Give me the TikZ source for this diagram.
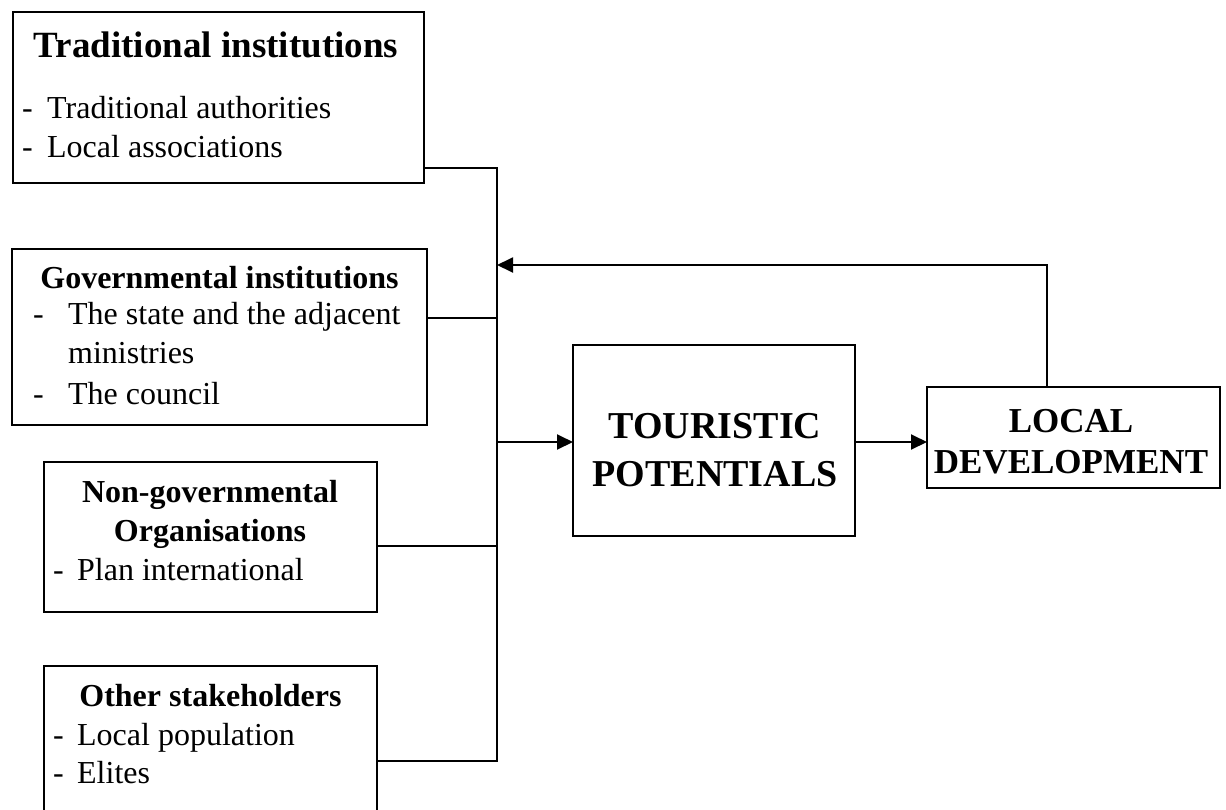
\documentclass[tikz,border=0pt]{standalone}
\usepackage{fontspec}
\setmainfont{Liberation Serif}
\usetikzlibrary{arrows.meta}
\tikzset{
  box/.style={draw, line width=1.9pt, anchor=north west, inner sep=0pt, outer sep=0pt},
  conn/.style={line width=1.9pt},
  arr/.style={conn, -{Triangle[length=16pt,width=15pt]}},
  ttl/.style={anchor=base, inner sep=0pt, font=\fontsize{32}{38}\selectfont\bfseries},
  bigttl/.style={anchor=base, inner sep=0pt, font=\fontsize{37}{44}\selectfont\bfseries},
  item/.style={anchor=base west, inner sep=0pt, font=\fontsize{32}{38}\selectfont},
  captl/.style={anchor=base, inner sep=0pt, font=\fontsize{38}{46}\selectfont\bfseries},
  capld/.style={anchor=base, inner sep=0pt, font=\fontsize{35}{42}\selectfont\bfseries},
}
\begin{document}
\begin{tikzpicture}[x=1pt,y=-1pt]
\useasboundingbox (0,0) rectangle (1226,809);
% boxes
\node[box, minimum width=411pt, minimum height=171pt] (b1) at (13,12) {};
\node[box, minimum width=415pt, minimum height=176pt] (b2) at (12,249) {};
\node[box, minimum width=333pt, minimum height=150pt] (b3) at (44,462) {};
\node[box, minimum width=333pt, minimum height=170pt] (b4) at (44,666) {};
\node[box, minimum width=282pt, minimum height=191pt] (tp) at (573,345) {};
\node[box, minimum width=293pt, minimum height=101pt] (ld) at (927,387) {};
% box 1 texts
\node[bigttl] (t1) at (216,57) {Traditional institutions};
\node[item] (t1a) at (22,118) {\makebox[25pt][l]{-}Traditional authorities};
\node[item] (t1b) at (22,157) {\makebox[25pt][l]{-}Local associations};
% box 2 texts
\node[ttl] (t2) at (219.5,288) {Governmental institutions};
\node[item] (t2a) at (33,324) {\makebox[35pt][l]{-}The state and the adjacent};
\node[item] (t2b) at (68,363) {ministries};
\node[item] (t2c) at (33,404) {\makebox[35pt][l]{-}The council};
% box 3 texts
\node[ttl] (t3) at (210,502) {Non-governmental};
\node[ttl] (t3b) at (210,541) {Organisations};
\node[item] (t3a) at (53,580) {\makebox[24pt][l]{-}Plan international};
% box 4 texts
\node[ttl] (t4) at (210.5,706) {Other stakeholders};
\node[item] (t4a) at (53,745) {\makebox[24pt][l]{-}Local population};
\node[item] (t4b) at (53,783) {\makebox[24pt][l]{-}Elites};
% centre boxes texts
\node[captl] (tpa) at (715,438) {TOURISTIC};
\node[captl] (tpb) at (715,486) {POTENTIALS};
\node[capld] (lda) at (1071,432) {LOCAL};
\node[capld] (ldb) at (1071,473) {DEVELOPMENT};
% bus
\coordinate (j1) at (497,168);
\coordinate (j2) at (497,318);
\coordinate (j3) at (497,546);
\coordinate (j4) at (497,761);
\coordinate (jt) at (497,442);
\coordinate (fb) at (1047,265);
\draw[conn] (b1.east |- j1) -- (j1) -- (j4) -- (b4.east |- j4);
\draw[conn] (b2.east |- j2) -- (j2);
\draw[conn] (b3.east |- j3) -- (j3);
\draw[arr] (jt) -- (tp.west |- jt);
\draw[arr] (tp.east |- jt) -- (ld.west |- jt);
\draw[arr] (ld.north -| fb) -- (fb) -- (fb -| j1);
\end{tikzpicture}
\end{document}
